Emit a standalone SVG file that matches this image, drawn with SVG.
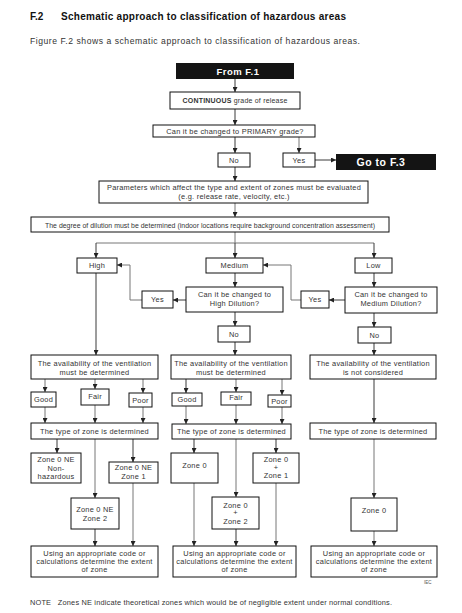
<svg xmlns="http://www.w3.org/2000/svg" width="462" height="613" viewBox="0 0 462 613">
<defs>
<marker id="ah" viewBox="0 0 8 8" markerWidth="5" markerHeight="5" refX="8" refY="4" orient="auto" markerUnits="userSpaceOnUse"><path d="M0,0 L8,4 L0,8 z" fill="#222"/></marker>
<style>
text{font-family:"Liberation Sans",Arial,sans-serif;fill:#333333}
.t{font-size:7.4px;letter-spacing:0.25px;text-anchor:middle}
.b{fill:#fff;stroke:#111;stroke-width:1}
.k{fill:#141414;stroke:none}
.w{fill:#ffffff;font-weight:bold;text-anchor:middle;letter-spacing:0.5px}
.c{fill:none;stroke:#3a3a3a;stroke-width:1}
.a{marker-end:url(#ah)}
.g{stroke:#777}
</style>
</defs>
<rect width="462" height="613" fill="#fff"/>
<text x="30" y="20" style="font-size:10px;font-weight:bold;fill:#111">F.2</text>
<text x="61" y="20" textLength="285" lengthAdjust="spacing" style="font-size:10px;font-weight:bold;fill:#111">Schematic approach to classification of hazardous areas</text>
<text x="30" y="44" textLength="330" lengthAdjust="spacing" style="font-size:8.6px;fill:#333">Figure F.2 shows a schematic approach to classification of hazardous areas.</text>

<g id="connectors">
<path class="c a" d="M235,79 V92"/>
<path class="c a" d="M235,109 V125"/>
<path class="c a" d="M235,137 V153"/>
<path class="c a g" d="M299,137 V153"/>
<path class="c a" d="M315,160 H336"/>
<path class="c a" d="M235,167 V181"/>
<path class="c a g" d="M235,203 V217"/>
<path class="c g" d="M235,232 V243"/>
<path class="c g" d="M96,243 H374"/>
<path class="c a" d="M96,243 V258"/>
<path class="c a" d="M235,243 V258"/>
<path class="c a" d="M374,243 V258"/>
<path class="c a" d="M235,273 V287"/>
<path class="c a" d="M186,300 H173"/>
<path class="c a g" d="M142,300 H130 V265 H117"/>
<path class="c a" d="M235,312 V326"/>
<path class="c a" d="M235,342 V355"/>
<path class="c a" d="M374,273 V287"/>
<path class="c a" d="M345,300 H329"/>
<path class="c a g" d="M301,300 H291 V265 H263"/>
<path class="c a" d="M374,313 V327"/>
<path class="c a" d="M374,343 V355"/>
<path class="c a" d="M96,273 V355"/>
<path class="c a g" d="M45,379 V392"/>
<path class="c a g" d="M95,379 V389"/>
<path class="c a g" d="M143,379 V393"/>
<path class="c a g" d="M45,407 V423"/>
<path class="c a g" d="M95,405 V423"/>
<path class="c a g" d="M143,407 V423"/>
<path class="c a" d="M57,439 V453"/>
<path class="c a g" d="M95,439 V498"/>
<path class="c a" d="M133,439 V462"/>
<path class="c a" d="M95,529 V546"/>
<path class="c a g" d="M133,483 V546"/>
<path class="c a" d="M186,379 V393"/>
<path class="c a g" d="M236,379 V392"/>
<path class="c a g" d="M282,379 V395"/>
<path class="c a g" d="M186,406 V424"/>
<path class="c a g" d="M236,405 V424"/>
<path class="c a g" d="M282,407 V424"/>
<path class="c a" d="M194,439 V453"/>
<path class="c a g" d="M236,439 V497"/>
<path class="c a" d="M276,439 V453"/>
<path class="c a g" d="M194,483 V546"/>
<path class="c a" d="M236,529 V546"/>
<path class="c a g" d="M276,483 V546"/>
<path class="c a" d="M374,379 V423"/>
<path class="c a g" d="M374,439 V498"/>
<path class="c a g" d="M374,531 V546"/>
</g>

<g id="fromF1"><rect class="k" x="176" y="63" width="118" height="16"/><text class="w" x="238" y="74.5" style="font-size:9.5px">From F.1</text></g>
<g id="continuous"><rect class="b" x="170" y="92" width="130" height="17"/><text class="t" x="235" y="103" style="font-size:7px;letter-spacing:0.2px"><tspan style="font-weight:bold">CONTINUOUS</tspan> grade of release</text></g>
<g id="qPrimary"><rect class="b" x="153" y="125" width="162" height="12"/><text class="t" x="235" y="134">Can it be changed to PRIMARY grade?</text></g>
<g id="no1"><rect class="b" x="218" y="153" width="32" height="14"/><text class="t" x="234" y="162.5">No</text></g>
<g id="yes1"><rect class="b" x="283" y="153" width="32" height="14"/><text class="t" x="299" y="162.5">Yes</text></g>
<g id="gotoF3"><rect class="k" x="336" y="154" width="100" height="16"/><text class="w" x="381" y="165.5" style="font-size:10.5px">Go to F.3</text></g>
<g id="params"><rect class="b" x="99" y="181" width="269" height="22"/><text class="t" x="234" y="190">Parameters which affect the type and extent of zones must be evaluated</text><text class="t" x="234" y="199">(e.g. release rate, velocity, etc.)</text></g>
<g id="dilution"><rect class="b" x="31" y="217" width="358" height="15"/><text class="t" x="210" y="227.5" textLength="330" lengthAdjust="spacing" style="font-size:6.9px;letter-spacing:0">The degree of dilution must be determined (indoor locations require background concentration assessment)</text></g>

<g id="high"><rect class="b" x="77" y="258" width="40" height="15"/><text class="t" x="97" y="268">High</text></g>
<g id="medium"><rect class="b" x="206" y="258" width="57" height="15"/><text class="t" x="234.5" y="268">Medium</text></g>
<g id="low"><rect class="b" x="355" y="258" width="37" height="15"/><text class="t" x="373.5" y="268">Low</text></g>
<g id="qHigh"><rect class="b" x="186" y="287" width="97" height="25"/><text class="t" x="234.5" y="297">Can it be changed to</text><text class="t" x="234.5" y="306">High Dilution?</text></g>
<g id="yesL"><rect class="b" x="142" y="291" width="31" height="17"/><text class="t" x="157.5" y="302">Yes</text></g>
<g id="noM"><rect class="b" x="218" y="326" width="32" height="16"/><text class="t" x="234" y="337">No</text></g>
<g id="qMed"><rect class="b" x="345" y="287" width="92" height="26"/><text class="t" x="391" y="297">Can it be changed to</text><text class="t" x="391" y="306">Medium Dilution?</text></g>
<g id="yesR"><rect class="b" x="301" y="291" width="28" height="17"/><text class="t" x="315" y="302">Yes</text></g>
<g id="noR"><rect class="b" x="358" y="327" width="33" height="16"/><text class="t" x="374.5" y="338">No</text></g>

<g id="availL"><rect class="b" x="31" y="355" width="127" height="24"/><text class="t" x="94.5" y="366">The availability of the ventilation</text><text class="t" x="94.5" y="375">must be determined</text></g>
<g id="goodL"><rect class="b" x="31" y="392" width="25" height="15"/><text class="t" x="43.5" y="402">Good</text></g>
<g id="fairL"><rect class="b" x="81" y="389" width="28" height="16"/><text class="t" x="95" y="399">Fair</text></g>
<g id="poorL"><rect class="b" x="129" y="393" width="23" height="14"/><text class="t" x="140.5" y="402.5">Poor</text></g>
<g id="typeL"><rect class="b" x="31" y="423" width="127" height="16"/><text class="t" x="94.5" y="433.5">The type of zone is determined</text></g>
<g id="zNonHaz"><rect class="b" x="31" y="453" width="50" height="30"/><text class="t" x="56" y="462">Zone 0 NE</text><text class="t" x="56" y="470.5">Non-</text><text class="t" x="56" y="479">hazardous</text></g>
<g id="zNE1"><rect class="b" x="109" y="462" width="49" height="21"/><text class="t" x="133.5" y="470">Zone 0 NE</text><text class="t" x="133.5" y="478.5">Zone 1</text></g>
<g id="zNE2"><rect class="b" x="71" y="498" width="48" height="31"/><text class="t" x="95" y="512">Zone 0 NE</text><text class="t" x="95" y="520.5">Zone 2</text></g>
<g id="extL"><rect class="b" x="31" y="546" width="127" height="31"/><text class="t" x="94.5" y="555.5">Using an appropriate code or</text><text class="t" x="94.5" y="563.5">calculations determine the extent</text><text class="t" x="94.5" y="571.5">of zone</text></g>

<g id="availM"><rect class="b" x="171" y="355" width="120" height="24"/><text class="t" x="231" y="366">The availability of the ventilation</text><text class="t" x="231" y="375">must be determined</text></g>
<g id="goodM"><rect class="b" x="172" y="393" width="30" height="13"/><text class="t" x="187" y="402">Good</text></g>
<g id="fairM"><rect class="b" x="221" y="392" width="30" height="13"/><text class="t" x="236" y="400">Fair</text></g>
<g id="poorM"><rect class="b" x="268" y="395" width="23" height="12"/><text class="t" x="279.5" y="403.5">Poor</text></g>
<g id="typeM"><rect class="b" x="172" y="424" width="119" height="15"/><text class="t" x="231.5" y="434">The type of zone is determined</text></g>
<g id="z0M"><rect class="b" x="171" y="453" width="47" height="30"/><text class="t" x="194.5" y="468">Zone 0</text></g>
<g id="z01M"><rect class="b" x="253" y="453" width="46" height="30"/><text class="t" x="276" y="462">Zone 0</text><text class="t" x="276" y="469.5">+</text><text class="t" x="276" y="478">Zone 1</text></g>
<g id="z02M"><rect class="b" x="212" y="497" width="47" height="32"/><text class="t" x="235.5" y="507.5">Zone 0</text><text class="t" x="235.5" y="515">+</text><text class="t" x="235.5" y="524">Zone 2</text></g>
<g id="extM"><rect class="b" x="173" y="546" width="123" height="31"/><text class="t" x="234.5" y="555.5">Using an appropriate code or</text><text class="t" x="234.5" y="563.5">calculations determine the extent</text><text class="t" x="234.5" y="571.5">of zone</text></g>

<g id="availR"><rect class="b" x="310" y="355" width="126" height="24"/><text class="t" x="373" y="366">The availability of the ventilation</text><text class="t" x="373" y="375">is not considered</text></g>
<g id="typeR"><rect class="b" x="310" y="423" width="126" height="16"/><text class="t" x="373" y="433.5">The type of zone is determined</text></g>
<g id="z0R"><rect class="b" x="351" y="498" width="46" height="33"/><text class="t" x="374" y="513">Zone 0</text></g>
<g id="extR"><rect class="b" x="311" y="546" width="126" height="31"/><text class="t" x="374" y="555.5">Using an appropriate code or</text><text class="t" x="374" y="563.5">calculations determine the extent</text><text class="t" x="374" y="571.5">of zone</text></g>

<text x="424" y="584" style="font-size:4.5px;fill:#555">IEC</text>
<text x="30" y="605" textLength="362" lengthAdjust="spacing" style="font-size:7.4px;fill:#333" xml:space="preserve">NOTE   Zones NE indicate theoretical zones which would be of negligible extent under normal conditions.</text>
</svg>
